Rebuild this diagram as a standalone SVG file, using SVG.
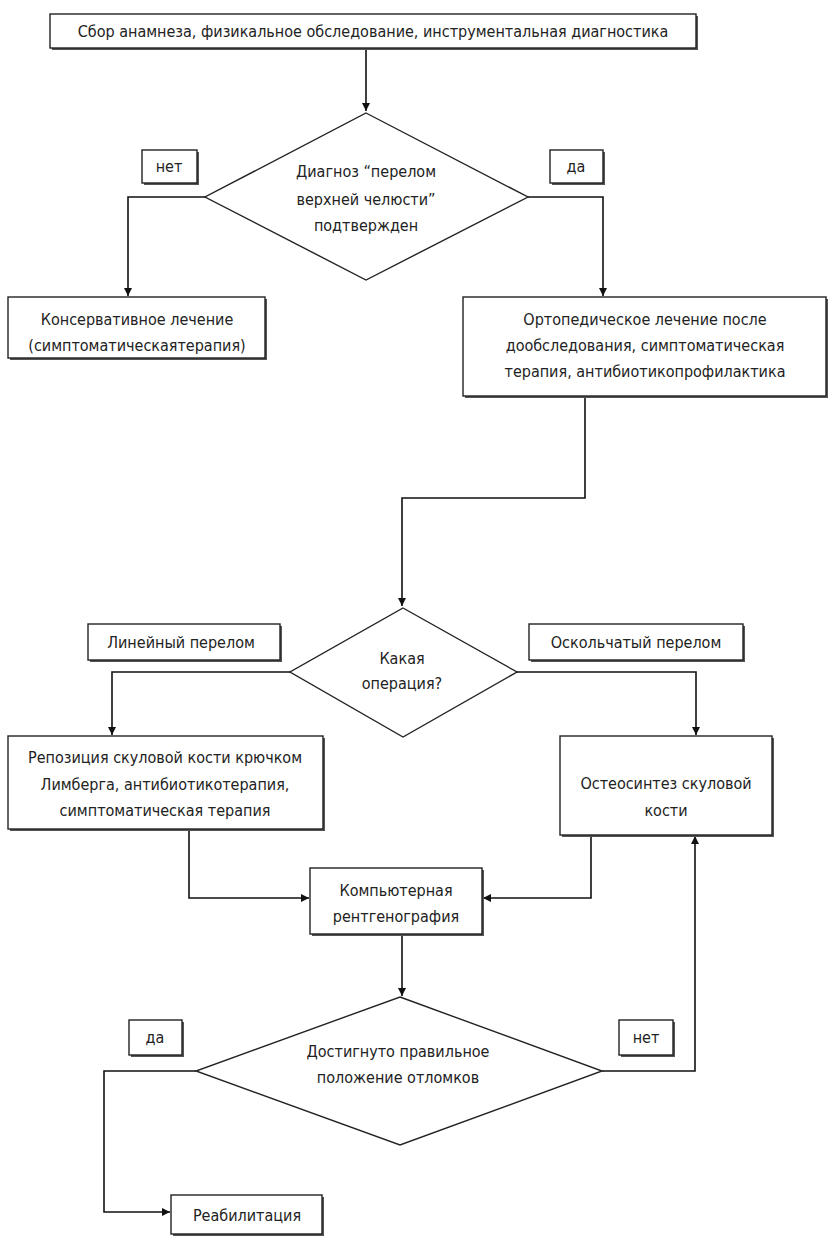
<svg xmlns="http://www.w3.org/2000/svg" width="831" height="1244" viewBox="0 0 831 1244">
<defs>
<style>
.box{fill:#fff;stroke:#222;stroke-width:1.4}
.sh{fill:#555;stroke:none}
.dia{fill:#fff;stroke:#222;stroke-width:1.4}
.ln{fill:none;stroke:#111;stroke-width:1.6}
text{font-family:"Liberation Sans Narrow","DejaVu Sans Condensed","Liberation Sans",sans-serif;font-size:16px;fill:#222;text-anchor:middle}
</style>
<marker id="ar" viewBox="0 0 10 10" refX="10" refY="5" markerWidth="8" markerHeight="8" markerUnits="userSpaceOnUse" orient="auto">
<path d="M0,0 L10,5 L0,10 z" fill="#111"/>
</marker>
</defs>
<rect width="831" height="1244" fill="#fff"/>

<g id="connectors">
<path class="ln" d="M366,48 V111" marker-end="url(#ar)"/>
<path class="ln" d="M205,197 H128 V296" marker-end="url(#ar)"/>
<path class="ln" d="M528,197 H603 V296" marker-end="url(#ar)"/>
<path class="ln" d="M585,396 V498 H402 V606" marker-end="url(#ar)"/>
<path class="ln" d="M290,672 H112 V735" marker-end="url(#ar)"/>
<path class="ln" d="M517,672 H696 V735" marker-end="url(#ar)"/>
<path class="ln" d="M189,829 V898 H309" marker-end="url(#ar)"/>
<path class="ln" d="M591,835 V898 H483" marker-end="url(#ar)"/>
<path class="ln" d="M402,934 V996" marker-end="url(#ar)"/>
<path class="ln" d="M602,1071 H695 V836" marker-end="url(#ar)"/>
<path class="ln" d="M196,1071 H104 V1212 H170" marker-end="url(#ar)"/>
</g>

<g id="n_start">
<rect class="sh" x="52" y="16" width="646" height="34"/>
<rect class="box" x="50" y="14" width="646" height="34"/>
<text x="373" y="37">Сбор анамнеза, физикальное обследование, инструментальная диагностика</text>
</g>

<g id="d_diag">
<polygon class="dia" points="366,113 528,197 366,280 205,197"/>
<text x="366" y="177">Диагноз “перелом</text>
<text x="366" y="205">верхней челюсти”</text>
<text x="366" y="231">подтвержден</text>
</g>

<g id="l_net1">
<rect class="sh" x="144" y="152" width="55" height="33"/>
<rect class="box" x="142" y="150" width="55" height="33"/>
<text x="169" y="172">нет</text>
</g>

<g id="l_da1">
<rect class="sh" x="552" y="152" width="53" height="33"/>
<rect class="box" x="550" y="150" width="53" height="33"/>
<text x="576" y="172">да</text>
</g>

<g id="n_conserv">
<rect class="sh" x="10" y="299" width="257" height="61"/>
<rect class="box" x="8" y="297" width="257" height="61"/>
<text x="137" y="325">Консервативное лечение</text>
<text x="137" y="351">(симптоматическаятерапия)</text>
</g>

<g id="n_ortho">
<rect class="sh" x="465" y="299" width="363" height="99"/>
<rect class="box" x="463" y="297" width="363" height="99"/>
<text x="645" y="325">Ортопедическое лечение после</text>
<text x="645" y="351">дообследования, симптоматическая</text>
<text x="645" y="377">терапия, антибиотикопрофилактика</text>
</g>

<g id="d_oper">
<polygon class="dia" points="403,608 517,672 403,737 290,672"/>
<text x="402" y="664">Какая</text>
<text x="402" y="689">операция?</text>
</g>

<g id="l_linear">
<rect class="sh" x="90" y="626" width="192" height="36"/>
<rect class="box" x="88" y="624" width="192" height="36"/>
<text x="181" y="648">Линейный перелом</text>
</g>

<g id="l_oskol">
<rect class="sh" x="531" y="626" width="214" height="36"/>
<rect class="box" x="529" y="624" width="214" height="36"/>
<text x="636" y="648">Оскольчатый перелом</text>
</g>

<g id="n_repos">
<rect class="sh" x="10" y="738" width="315" height="93"/>
<rect class="box" x="8" y="736" width="315" height="93"/>
<text x="165" y="763">Репозиция скуловой кости крючком</text>
<text x="165" y="790">Лимберга, антибиотикотерапия,</text>
<text x="165" y="816">симптоматическая терапия</text>
</g>

<g id="n_osteo">
<rect class="sh" x="562" y="738" width="212" height="99"/>
<rect class="box" x="560" y="736" width="212" height="99"/>
<text x="666" y="789">Остеосинтез скуловой</text>
<text x="666" y="816">кости</text>
</g>

<g id="n_ct">
<rect class="sh" x="312" y="870" width="172" height="66"/>
<rect class="box" x="310" y="868" width="172" height="66"/>
<text x="396" y="896">Компьютерная</text>
<text x="396" y="922">рентгенография</text>
</g>

<g id="d_pos">
<polygon class="dia" points="400,997 602,1071 400,1145 196,1071"/>
<text x="398" y="1057">Достигнуто правильное</text>
<text x="398" y="1083">положение отломков</text>
</g>

<g id="l_da2">
<rect class="sh" x="131" y="1022" width="53" height="35"/>
<rect class="box" x="129" y="1020" width="53" height="35"/>
<text x="155" y="1043">да</text>
</g>

<g id="l_net2">
<rect class="sh" x="621" y="1022" width="54" height="35"/>
<rect class="box" x="619" y="1020" width="54" height="35"/>
<text x="646" y="1043">нет</text>
</g>

<g id="n_rehab">
<rect class="sh" x="173" y="1197" width="151" height="39"/>
<rect class="box" x="171" y="1195" width="151" height="39"/>
<text x="247" y="1221">Реабилитация</text>
</g>
</svg>
